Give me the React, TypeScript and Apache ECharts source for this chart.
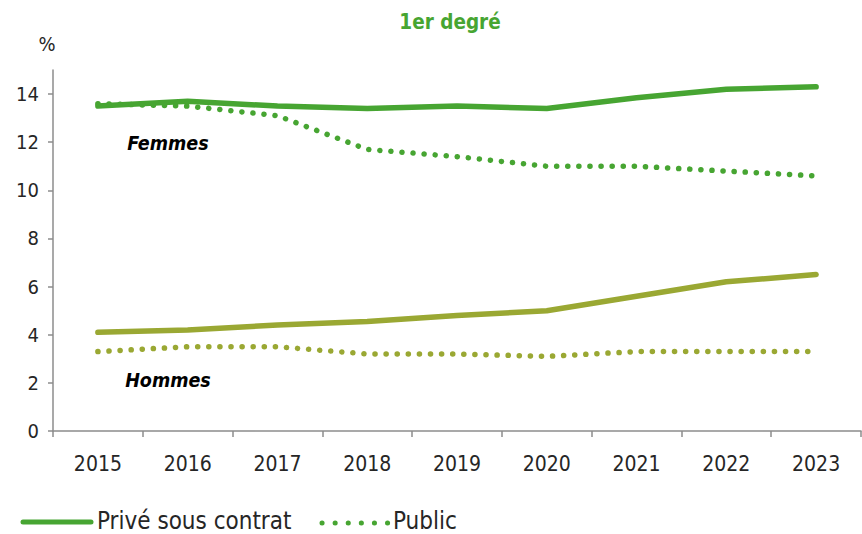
import React, { useEffect, useRef } from "react";
import * as echarts from "echarts";

const years = ["2015", "2016", "2017", "2018", "2019", "2020", "2021", "2022", "2023"];
const priveFemmes = [13.5, 13.7, 13.5, 13.4, 13.5, 13.4, 13.85, 14.2, 14.3];
const publicFemmes = [13.6, 13.5, 13.1, 11.7, 11.4, 11.0, 11.0, 10.8, 10.6];
const priveHommes = [4.1, 4.2, 4.4, 4.55, 4.8, 5.0, 5.6, 6.2, 6.5];
const publicHommes = [3.3, 3.5, 3.5, 3.2, 3.2, 3.1, 3.3, 3.3, 3.3];

const GREEN = "#47a532";
const OLIVE = "#9aa833";
const FONT = "'DejaVu Sans Condensed', 'Open Sans', sans-serif";

export default function App() {
  const ref = useRef<HTMLDivElement>(null);
  useEffect(() => {
    if (!ref.current) return;
    const chart = echarts.init(ref.current, null, { renderer: "svg" });
    const dotted = { type: [0.1, 11] as any, cap: "round" as any, width: 5.5 };
    chart.setOption({
      animation: false,
      textStyle: { fontFamily: FONT },
      grid: { left: 53, right: 1, top: 70, bottom: 103 },
      xAxis: {
        type: "category",
        data: years,
        boundaryGap: true,
        axisLine: { lineStyle: { color: "#8c8c8c", width: 1.5 } },
        axisTick: { show: true, length: 6, inside: false, lineStyle: { color: "#8c8c8c", width: 1.5 } },
        axisLabel: { color: "#262626", fontSize: 21, margin: 22, fontFamily: FONT },
      },
      yAxis: {
        type: "value",
        min: 0,
        max: 15,
        interval: 2,
        splitLine: { show: false },
        axisLine: { show: true, lineStyle: { color: "#8c8c8c", width: 1.5 } },
        axisTick: { show: true, length: 5, lineStyle: { color: "#8c8c8c", width: 1.5 } },
        axisLabel: {
          color: "#262626",
          fontSize: 20,
          margin: 14,
          fontFamily: FONT,
          showMaxLabel: false,
          formatter: (v: number) => (v % 2 === 0 ? String(v) : ""),
        },
      },
      series: [
        {
          name: "Privé sous contrat (femmes)",
          type: "line",
          data: priveFemmes,
          showSymbol: false,
          lineStyle: { color: GREEN, width: 5.5, cap: "round" },
        },
        {
          name: "Public (femmes)",
          type: "line",
          data: publicFemmes,
          showSymbol: false,
          lineStyle: { color: GREEN, ...dotted },
        },
        {
          name: "Privé sous contrat (hommes)",
          type: "line",
          data: priveHommes,
          showSymbol: false,
          lineStyle: { color: OLIVE, width: 5.5, cap: "round" },
        },
        {
          name: "Public (hommes)",
          type: "line",
          data: publicHommes,
          showSymbol: false,
          lineStyle: { color: OLIVE, ...dotted },
        },
      ],
      graphic: [
        {
          type: "text",
          x: 450,
          y: 22,
          style: {
            text: "1er degré",
            fill: GREEN,
            font: `bold 20.5px ${FONT}`,
            align: "center",
            verticalAlign: "middle",
          },
        },
        {
          type: "text",
          x: 47,
          y: 44,
          style: { text: "%", fill: "#262626", font: `20px ${FONT}`, align: "center", verticalAlign: "middle" },
        },
        {
          type: "text",
          x: 168,
          y: 143,
          style: { text: "Femmes", fill: "#000", font: `italic bold 19.5px ${FONT}`, align: "center", verticalAlign: "middle" },
        },
        {
          type: "text",
          x: 168,
          y: 380,
          style: { text: "Hommes", fill: "#000", font: `italic bold 19.5px ${FONT}`, align: "center", verticalAlign: "middle" },
        },
        {
          type: "line",
          shape: { x1: 23, y1: 522, x2: 91, y2: 522 },
          style: { stroke: GREEN, lineWidth: 5, lineCap: "round" },
        },
        {
          type: "text",
          x: 97,
          y: 521,
          style: { text: "Privé sous contrat", fill: "#262626", font: `24px ${FONT}`, verticalAlign: "middle" },
        },
        {
          type: "line",
          shape: { x1: 322, y1: 523, x2: 388, y2: 523 },
          style: { stroke: GREEN, lineWidth: 5, lineCap: "round", lineDash: [0.1, 13] },
        },
        {
          type: "text",
          x: 393,
          y: 521,
          style: { text: "Public", fill: "#262626", font: `24px ${FONT}`, verticalAlign: "middle" },
        },
      ],
    });
    return () => chart.dispose();
  }, []);
  return <div ref={ref} style={{ width: 862, height: 534, position: "absolute", left: 0, top: 0 }} />;
}
